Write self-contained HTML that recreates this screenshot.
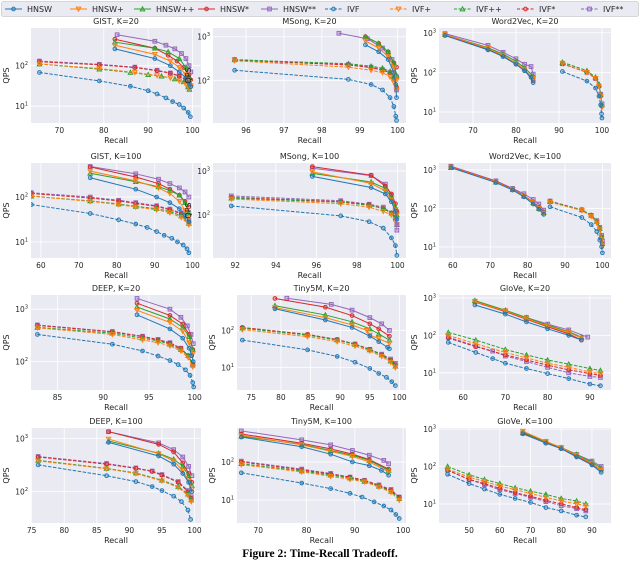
<!DOCTYPE html>
<html><head><meta charset="utf-8"><style>
body{margin:0;background:#fff;}
svg{display:block;font-family:"DejaVu Sans","Liberation Sans",sans-serif;}
</style></head><body>
<svg id="fig" width="640" height="563" viewBox="0 0 640 563" xmlns="http://www.w3.org/2000/svg"></svg>
<script>
const seriesNames = ["HNSW","HNSW+","HNSW++","HNSW*","HNSW**","IVF","IVF+","IVF++","IVF*","IVF**"];
const seriesColors = ["#1f77b4","#ff7f0e","#2ca02c","#d62728","#9467bd","#1f77b4","#ff7f0e","#2ca02c","#d62728","#9467bd"];
const seriesMarkers = ["o","v","^","o","s","o","v","^","o","s"];
const panelTitles = ["GIST, K=20","MSong, K=20","Word2Vec, K=20","GIST, K=100","MSong, K=100","Word2Vec, K=100","DEEP, K=20","Tiny5M, K=20","GloVe, K=20","DEEP, K=100","Tiny5M, K=100","GloVe, K=100"];
const xTicks = [[70,80,90,100],[96,97,98,99,100],[70,80,90,100],[60,70,80,90,100],[92,94,96,98,100],[60,70,80,90,100],[85,90,95,100],[75,80,85,90,95,100],[60,70,80,90],[75,80,85,90,95,100],[70,80,90,100],[50,60,70,80,90]];
const xDomains = [[63.6,101.9],[95.13,100.22],[62.1,102.1],[57.4,102.2],[90.9,100.42],[56.3,102.3],[82.1,100.7],[72.6,101.1],[54.3,95],[74.9,101],[65.6,100.6],[40.2,96.2]];
const yLogDomains = [[0.585,2.93],[1.02,3.2],[0.72,3.12],[0.64,2.76],[1.02,3.18],[0.71,3.18],[1.46,3.27],[0.4,2.95],[0.54,3.08],[1.41,3.2],[0.4,2.89],[0.49,3.03]];

const P1_HNSW=[[82.5,260],[91.5,150],[95,100],[97,70],[98.5,50],[99.2,38],[99.6,30]];
const P1_HNSWp=[[82.5,320],[91.5,190],[95,130],[97,90],[98.5,60],[99.3,40],[99.6,32]];
const P1_HNSWpp=[[82.5,380],[91.5,270],[94.5,220],[97,150],[98.5,90],[99.3,50],[99.6,35]];
const P1_HNSWs=[[82.5,450],[91.5,270],[94.5,180],[96.5,130],[98,90],[99.2,60],[99.6,45]];
const P1_HNSWss=[[83,580],[91.5,400],[94,320],[96,260],[97.5,200],[98.5,150],[99.2,100],[99.6,70]];
const P1_IVF=[[65.5,68],[79,42],[86,31],[90,24],[92,20],[94,16],[95.5,13],[97,11],[98,9],[99,7],[99.5,5.5]];
const P1_IVFp=[[65.5,110],[79,85],[87,68],[92,57],[95,50],[97,42],[98.5,34],[99.3,27]];
const P1_IVFpp=[[65.5,110],[79,82],[86,68],[90,60],[93,55],[96,47],[98,40],[99,30],[99.3,26]];
const P1_IVFs=[[65.5,125],[79,105],[87,90],[92,75],[95,65],[97,55],[98.5,45],[99.3,32]];
const P1_IVFss=[[65.5,130],[79,108],[87,92],[92,77],[95,66],[97,56],[98.5,46],[99.3,33]];
const P2_HNSW=[[99.15,650],[99.5,450],[99.75,300],[99.9,150],[99.95,80],[99.97,40]];
const P2_HNSWp=[[99.15,800],[99.5,550],[99.75,350],[99.9,200],[99.97,100]];
const P2_HNSWpp=[[99.15,1000],[99.5,700],[99.75,450],[99.9,250],[99.97,130]];
const P2_HNSWs=[[99.15,1000],[99.5,700],[99.75,450],[99.9,250],[99.97,200]];
const P2_HNSWss=[[98.45,1200],[99.2,900],[99.6,550],[99.85,300],[99.97,120]];
const P2_IVF=[[95.7,170],[98.7,105],[99.3,80],[99.6,60],[99.8,40],[99.9,25],[99.95,15],[99.97,12]];
const P2_IVFp=[[95.7,280],[98.7,200],[99.3,170],[99.6,150],[99.8,120],[99.9,90],[99.97,60]];
const P2_IVFpp=[[95.7,295],[98.7,240],[99.3,210],[99.6,190],[99.8,160],[99.9,120],[99.97,70]];
const P2_IVFs=[[95.7,290],[98.7,225],[99.3,195],[99.6,170],[99.8,150],[99.9,110],[99.97,70]];
const P2_IVFss=[[95.7,300],[98.7,230],[99.3,200],[99.6,175],[99.8,150],[99.9,110],[99.97,60]];
const P3_HNSW=[[63.5,850],[73.5,370],[77,250],[80,160],[82,110],[83.5,75],[84,55]];
const P3_HNSWp=[[63.5,900],[73.5,400],[77,270],[80,170],[82,120],[84,70]];
const P3_HNSWpp=[[63.5,900],[73.5,420],[77,290],[80,190],[82,130],[84,80]];
const P3_HNSWs=[[63.5,880],[73.5,380],[77,260],[80,160],[82,110],[84,62]];
const P3_HNSWss=[[63.5,950],[73.5,480],[77,320],[80,220],[82,160],[83.5,140],[84,90]];
const P3_IVF=[[90.8,105],[96.5,60],[98.5,40],[99.3,25],[99.7,15],[99.9,9],[100,7]];
const P3_IVFp=[[90.8,170],[96.5,100],[98.5,70],[99.3,45],[99.7,25],[100,13]];
const P3_IVFpp=[[90.8,180],[96.5,110],[98.5,75],[99.3,50],[99.7,28],[100,15]];
const P3_IVFs=[[90.8,165],[96.5,100],[98.5,70],[99.3,45],[99.7,25],[100,14]];
const P3_IVFss=[[90.8,165],[96.5,100],[98.5,70],[99.3,45],[99.7,28],[100,16]];
const P4_HNSW=[[73,270],[85,150],[90.5,100],[94,75],[96.5,55],[98,40],[99,28]];
const P4_HNSWp=[[73,380],[85,230],[91,160],[94,120],[96.5,80],[98,50],[99,35]];
const P4_HNSWpp=[[73,340],[85,220],[91,170],[94,140],[96.5,110],[98,75],[99,45]];
const P4_HNSWs=[[73,470],[85,280],[91,200],[94,150],[96.5,110],[98,80],[99,60]];
const P4_HNSWss=[[73,480],[85,330],[91,250],[94,200],[96.5,160],[98,130],[99,100]];
const P4_IVF=[[57.5,68],[73,43],[80.5,31],[85,25],[88,21],[90.5,17],[92.5,14],[94.5,12],[96,10],[97.5,8.5],[98.5,7],[99,5.7]];
const P4_IVFp=[[57.5,105],[73,80],[80.5,68],[85,60],[90.5,52],[94,45],[97,35],[99,24]];
const P4_IVFpp=[[57.5,105],[73,82],[80.5,70],[85,62],[90.5,55],[94,48],[97,38],[99,26]];
const P4_IVFs=[[57.5,120],[73,95],[80.5,82],[85,72],[90.5,62],[94,52],[97,42],[99,28]];
const P4_IVFss=[[57.5,125],[73,100],[80.5,85],[85,75],[90.5,64],[94,54],[97,44],[99,30]];
const P5_HNSW=[[95.8,750],[98.7,420],[99.4,300],[99.7,200],[99.9,120],[99.97,80]];
const P5_HNSWp=[[95.8,950],[98.7,520],[99.4,350],[99.7,220],[99.9,130],[99.97,100]];
const P5_HNSWpp=[[95.8,880],[98.7,560],[99.4,400],[99.7,250],[99.9,150],[99.97,100]];
const P5_HNSWs=[[95.8,1250],[98.7,800],[99.4,450],[99.7,300],[99.9,180],[99.97,120]];
const P5_HNSWss=[[95.8,1150],[98.7,780],[99.4,500],[99.7,280],[99.9,120],[99.97,60]];
const P5_IVF=[[91.8,160],[97.2,95],[98.6,70],[99.3,50],[99.7,30],[99.9,20],[99.97,12]];
const P5_IVFp=[[91.8,230],[97.2,180],[98.6,150],[99.3,120],[99.7,100],[99.9,80],[99.97,60]];
const P5_IVFpp=[[91.8,240],[97.2,195],[98.6,165],[99.3,140],[99.7,110],[99.9,90],[99.97,60]];
const P5_IVFs=[[91.8,250],[97.2,200],[98.6,170],[99.3,140],[99.7,110],[99.9,90],[99.97,60]];
const P5_IVFss=[[91.8,270],[97.2,210],[98.6,175],[99.3,150],[99.7,110],[99.9,80],[99.97,45]];
const P6_HNSW=[[59.5,1150],[71.5,470],[76,300],[79,200],[81.5,130],[83,95],[84.3,70]];
const P6_HNSWp=[[59.5,1180],[71.5,490],[76,310],[79,210],[81.5,140],[83,100],[84.3,75]];
const P6_HNSWpp=[[59.5,1150],[71.5,480],[76,310],[79,210],[81.5,140],[83,100],[84.3,78]];
const P6_HNSWs=[[59.5,1200],[71.5,500],[76,320],[79,215],[81.5,145],[83,105],[84.3,80]];
const P6_HNSWss=[[59.5,1250],[71.5,520],[76,330],[79,240],[81.5,170],[83,130],[84.3,90]];
const P6_IVF=[[86,110],[94.5,58],[97,38],[98.5,25],[99.3,15],[99.8,10],[100,7]];
const P6_IVFp=[[86,145],[94.5,88],[97,62],[98.5,42],[99.3,28],[99.8,16],[100,11]];
const P6_IVFpp=[[86,150],[94.5,92],[97,66],[98.5,46],[99.3,30],[99.8,18],[100,12]];
const P6_IVFs=[[86,150],[94.5,90],[97,65],[98.5,45],[99.3,30],[99.8,18],[100,12]];
const P6_IVFss=[[86,155],[94.5,92],[97,66],[98.5,48],[99.3,32],[99.8,20],[100,14]];
const P7_HNSW=[[93.7,780],[97.3,420],[98.7,280],[99.4,180],[99.7,130],[99.85,100]];
const P7_HNSWp=[[93.7,950],[97.3,560],[98.7,380],[99.4,230],[99.8,140]];
const P7_HNSWpp=[[93.7,1100],[97.3,650],[98.7,450],[99.4,300],[99.8,170]];
const P7_HNSWs=[[93.7,1300],[97.3,760],[98.7,520],[99.4,330],[99.8,170]];
const P7_HNSWss=[[93.7,1600],[97.3,1000],[98.5,700],[99.2,480],[99.6,330],[99.85,220]];
const P7_IVF=[[82.8,330],[91,215],[94.3,160],[96,128],[97.3,105],[98.2,88],[99,70],[99.5,55],[99.8,40],[99.9,33]];
const P7_IVFp=[[82.8,440],[91,330],[94.3,260],[96,230],[97.3,200],[98.5,160],[99.3,120],[99.8,80]];
const P7_IVFpp=[[82.8,450],[91,350],[94.3,280],[96,250],[97.3,215],[98.5,170],[99.3,130],[99.8,90]];
const P7_IVFs=[[82.8,490],[91,370],[94.3,300],[96,260],[97.3,225],[98.5,180],[99.3,130],[99.8,90]];
const P7_IVFss=[[82.8,500],[91,375],[94.3,305],[96,265],[97.3,230],[98.5,180],[99.3,130],[99.8,85]];
const P8_HNSW=[[79,380],[87.5,190],[92,120],[95,70],[96.5,50],[98,35],[98.3,32]];
const P8_HNSWp=[[79,410],[87.5,220],[92,140],[94.5,100],[95,75],[96.5,60],[98.3,45]];
const P8_HNSWpp=[[79,460],[87.5,260],[92,170],[95,110],[96.5,80],[98.3,55]];
const P8_HNSWs=[[79,720],[87.5,420],[92,250],[95,150],[96.5,110],[98.3,70]];
const P8_HNSWss=[[81,730],[88.5,500],[92,350],[95,220],[97,150],[98.3,100]];
const P8_IVF=[[73.5,55],[84.5,30],[89.5,20],[92.5,14],[95,9.5],[96.5,7],[97.8,5.5],[98.7,4.2],[99.3,3.3]];
const P8_IVFp=[[73.5,105],[84.5,68],[89.5,50],[92.5,38],[95,28],[97,20],[98.5,14],[99.3,10]];
const P8_IVFpp=[[73.5,115],[84.5,75],[89.5,55],[92.5,42],[95,30],[97,22],[98.5,15],[99.3,11]];
const P8_IVFs=[[73.5,120],[84.5,78],[89.5,57],[92.5,43],[95,31],[97,22],[98.5,16],[99.3,12]];
const P8_IVFss=[[73.5,115],[84.5,75],[89.5,56],[92.5,43],[95,31],[97,23],[98.5,17],[99.3,13]];
const P9_HNSW=[[62.8,650],[70,370],[75,230],[80,150],[85,100],[88,75]];
const P9_HNSWp=[[62.8,800],[70,450],[75,280],[80,180],[85,120],[88,85]];
const P9_HNSWpp=[[62.8,850],[70,470],[75,300],[80,190],[85,125],[88,90]];
const P9_HNSWs=[[62.8,780],[70,430],[75,270],[80,170],[85,110],[88,75]];
const P9_HNSWss=[[62.8,820],[70,460],[75,300],[80,200],[85,140],[89.5,90]];
const P9_IVF=[[56.5,65],[63,35],[67,24],[70,18],[75,13],[80,9.5],[85,7],[90,5],[92.5,4.5]];
const P9_IVFp=[[56.5,100],[63,60],[70,35],[75,25],[80,18],[85,14],[90,10.5],[92.5,9.5]];
const P9_IVFpp=[[56.5,120],[63,75],[70,42],[75,30],[80,22],[85,17],[90,13],[92.5,11.5]];
const P9_IVFs=[[56.5,85],[63,50],[70,30],[75,22],[80,16],[85,12],[90,9.5],[92.5,8.5]];
const P9_IVFss=[[56.5,90],[63,52],[67,38],[70,28],[75,20],[80,14],[85,10],[90,8],[92.5,7.5]];
const P10_HNSW=[[86.8,850],[94.5,470],[96.8,330],[98.2,220],[99.1,150],[99.6,100]];
const P10_HNSWp=[[86.8,980],[94.5,520],[96.8,380],[98.2,250],[99.1,160],[99.6,110]];
const P10_HNSWpp=[[86.8,900],[94.5,530],[96.8,410],[98.2,300],[99.1,200],[99.6,130]];
const P10_HNSWs=[[86.8,1350],[94.5,780],[96.8,560],[98.2,350],[99.1,220],[99.6,150]];
const P10_HNSWss=[[86.8,1350],[94.5,830],[96.8,620],[98.2,450],[99.1,300],[99.6,200]];
const P10_IVF=[[76,320],[86.5,200],[91,155],[93.5,125],[95,105],[96.8,82],[98,65],[99,45],[99.4,30]];
const P10_IVFp=[[76,380],[86.5,270],[91,220],[95,160],[97.5,120],[99,85],[99.5,65]];
const P10_IVFpp=[[76,390],[86.5,275],[91,225],[95,165],[97.5,125],[99,90],[99.5,70]];
const P10_IVFs=[[76,450],[86.5,330],[91,275],[93.5,240],[95,205],[97.5,150],[99,100],[99.5,75]];
const P10_IVFss=[[76,460],[86.5,340],[91,280],[93.5,245],[95,210],[97.5,155],[99,105],[99.5,80]];
const P11_HNSW=[[66.5,450],[79,250],[85,160],[89.5,100],[93,80],[95.5,60],[97,45]];
const P11_HNSWp=[[66.5,500],[79,280],[85,190],[89.5,140],[93,100],[97,55]];
const P11_HNSWpp=[[66.5,470],[79,290],[85,200],[89.5,150],[93,110],[97,60]];
const P11_HNSWs=[[66.5,540],[79,310],[85,220],[89.5,160],[93,115],[97,65]];
const P11_HNSWss=[[66.5,650],[79,380],[85,280],[89.5,200],[93,150],[96,110],[97,90]];
const P11_IVF=[[66.5,52],[79,28],[85,20],[89,15],[91.5,12],[94,9],[96,7],[97.5,5.5],[98.5,4.2],[99.2,3.3]];
const P11_IVFp=[[66.5,85],[79,55],[85,42],[89,35],[92,30],[95,22],[97.5,16],[99.2,10]];
const P11_IVFpp=[[66.5,90],[79,58],[85,45],[89,38],[92,31],[95,23],[97.5,17],[99.2,11]];
const P11_IVFs=[[66.5,100],[79,62],[85,48],[89,40],[92,33],[95,24],[97.5,18],[99.2,12]];
const P11_IVFss=[[66.5,105],[79,65],[85,50],[89,40],[92,33],[95,25],[97.5,19],[99.2,12]];
const P12_HNSW=[[67.5,750],[75,420],[80,300],[85,180],[90,110],[93,70]];
const P12_HNSWp=[[67.5,880],[75,470],[80,320],[85,200],[90,120],[93,80]];
const P12_HNSWpp=[[67.5,820],[75,460],[80,320],[85,210],[90,130],[93,90]];
const P12_HNSWs=[[67.5,800],[75,450],[80,300],[85,190],[90,115],[93,80]];
const P12_HNSWss=[[67.5,780],[75,460],[80,320],[85,210],[90,140],[93,100]];
const P12_IVF=[[43,62],[50,35],[55,25],[60,18],[65,14],[70,11],[75,8],[80,6.5],[85,5],[88,4.5]];
const P12_IVFp=[[43,85],[50,52],[55,40],[60,30],[65,24],[70,19],[75,15],[80,12],[85,10],[88,9]];
const P12_IVFpp=[[43,100],[50,60],[55,45],[60,35],[65,27],[70,22],[75,18],[80,14],[85,12],[88,10]];
const P12_IVFs=[[43,80],[50,45],[55,35],[60,26],[65,20],[70,16],[75,12.5],[80,10],[85,8],[88,7]];
const P12_IVFss=[[43,80],[50,45],[55,33],[60,24],[65,19],[70,15],[75,11.5],[80,9],[85,7.5],[88,6.5]];

const panelSeries = [
 [P1_HNSW,P1_HNSWp,P1_HNSWpp,P1_HNSWs,P1_HNSWss,P1_IVF,P1_IVFp,P1_IVFpp,P1_IVFs,P1_IVFss],
 [P2_HNSW,P2_HNSWp,P2_HNSWpp,P2_HNSWs,P2_HNSWss,P2_IVF,P2_IVFp,P2_IVFpp,P2_IVFs,P2_IVFss],
 [P3_HNSW,P3_HNSWp,P3_HNSWpp,P3_HNSWs,P3_HNSWss,P3_IVF,P3_IVFp,P3_IVFpp,P3_IVFs,P3_IVFss],
 [P4_HNSW,P4_HNSWp,P4_HNSWpp,P4_HNSWs,P4_HNSWss,P4_IVF,P4_IVFp,P4_IVFpp,P4_IVFs,P4_IVFss],
 [P5_HNSW,P5_HNSWp,P5_HNSWpp,P5_HNSWs,P5_HNSWss,P5_IVF,P5_IVFp,P5_IVFpp,P5_IVFs,P5_IVFss],
 [P6_HNSW,P6_HNSWp,P6_HNSWpp,P6_HNSWs,P6_HNSWss,P6_IVF,P6_IVFp,P6_IVFpp,P6_IVFs,P6_IVFss],
 [P7_HNSW,P7_HNSWp,P7_HNSWpp,P7_HNSWs,P7_HNSWss,P7_IVF,P7_IVFp,P7_IVFpp,P7_IVFs,P7_IVFss],
 [P8_HNSW,P8_HNSWp,P8_HNSWpp,P8_HNSWs,P8_HNSWss,P8_IVF,P8_IVFp,P8_IVFpp,P8_IVFs,P8_IVFss],
 [P9_HNSW,P9_HNSWp,P9_HNSWpp,P9_HNSWs,P9_HNSWss,P9_IVF,P9_IVFp,P9_IVFpp,P9_IVFs,P9_IVFss],
 [P10_HNSW,P10_HNSWp,P10_HNSWpp,P10_HNSWs,P10_HNSWss,P10_IVF,P10_IVFp,P10_IVFpp,P10_IVFs,P10_IVFss],
 [P11_HNSW,P11_HNSWp,P11_HNSWpp,P11_HNSWs,P11_HNSWss,P11_IVF,P11_IVFp,P11_IVFpp,P11_IVFs,P11_IVFss],
 [P12_HNSW,P12_HNSWp,P12_HNSWpp,P12_HNSWs,P12_HNSWss,P12_IVF,P12_IVFp,P12_IVFpp,P12_IVFs,P12_IVFss]
];

const NS="http://www.w3.org/2000/svg";
const svg=document.getElementById('fig');
function mk(tag,attrs,parent){const e=document.createElementNS(NS,tag);for(const k in attrs)e.setAttribute(k,attrs[k]);(parent||svg).appendChild(e);return e;}
function marker(g,type,x,y,c){
  const r=1.9;let e;
  if(type==="o") e=mk('circle',{cx:x,cy:y,r:r},g);
  else if(type==="s") e=mk('rect',{x:x-r,y:y-r,width:2*r,height:2*r},g);
  else if(type==="v") e=mk('polygon',{points:`${x-r*1.2},${y-r} ${x+r*1.2},${y-r} ${x},${y+r*1.2}`},g);
  else e=mk('polygon',{points:`${x-r*1.2},${y+r} ${x+r*1.2},${y+r} ${x},${y-r*1.2}`},g);
  e.setAttribute('fill',c);e.setAttribute('fill-opacity','0.35');e.setAttribute('stroke',c);e.setAttribute('stroke-width','0.9');
  
  
}

const lg=mk('g',{});


mk('rect',{x:1.5,y:1.5,width:637,height:15,rx:2,fill:'#eaeaf2',stroke:'#cccccc','stroke-width':0.8},lg);
const legendX=[2,67,131,195,258,322,387,451,514,578];
seriesNames.forEach((n,i)=>{
  const g=mk('g',{},lg);
  
  
  const x=legendX[i];
  mk('line',{x1:x+3,y1:9,x2:x+20,y2:9,stroke:seriesColors[i],'stroke-width':1,'stroke-dasharray':i>=5?'3,1.5':'none'},g);
  marker(g,seriesMarkers[i],x+11.5,9,seriesColors[i]);
  const t=mk('text',{x:x+25,y:12,'font-size':8,fill:'#262626'},g);t.textContent=n;
});

const colL=[[31,201],[213,406],[439,611]];
const rowT=[28,163,295,428];const PH=95;
panelTitles.forEach((title,p)=>{
  const row=Math.floor(p/3),col=p%3;
  let L=colL[col][0];const R=colL[col][1];
  if(p===7||p===10) L=237;
  const T=rowT[row],B=T+PH;
  const [x0,x1]=xDomains[p],[l0,l1]=yLogDomains[p];
  const sx=v=>L+(v-x0)/(x1-x0)*(R-L);
  const sy=v=>B-(Math.log10(v)-l0)/(l1-l0)*(B-T);
  const g=mk('g',{});
  
  
  mk('rect',{x:L,y:T,width:R-L,height:B-T,fill:'#eaeaf2'},g);
  xTicks[p].forEach(v=>{const x=sx(v);
    mk('line',{x1:x,y1:T,x2:x,y2:B,stroke:'#fff','stroke-width':0.8},g);
    const t=mk('text',{x:x,y:B+10,'font-size':7.5,'text-anchor':'middle',fill:'#262626'},g);t.textContent=v;
    
    
  });
  for(let k=Math.ceil(l0);k<=Math.floor(l1);k++){const y=sy(Math.pow(10,k));
    mk('line',{x1:L,y1:y,x2:R,y2:y,stroke:'#fff','stroke-width':0.8},g);
    const t=mk('text',{x:L-3,y:y+3,'font-size':7.5,'text-anchor':'end',fill:'#262626'},g);
    
    
    const a=mk('tspan',{},t);a.textContent='10';
    const b=mk('tspan',{'font-size':5,dy:-3.5},t);b.textContent=String(k);
  }
  const tt=mk('text',{x:(L+R)/2,y:T-4,'font-size':8,'text-anchor':'middle',fill:'#262626'},g);tt.textContent=title;
  
  
  const xl=mk('text',{x:(L+R)/2,y:B+20,'font-size':8,'text-anchor':'middle',fill:'#262626'},g);xl.textContent='Recall';
  
  
  const yl=mk('text',{x:0,y:0,'font-size':8,'text-anchor':'middle',fill:'#262626',transform:`translate(${L-22},${(T+B)/2}) rotate(-90)`},g);yl.textContent='QPS';
  
  
  const clip=mk('clipPath',{id:'c'+p},g);mk('rect',{x:L,y:T,width:R-L,height:B-T},clip);
  const dg=mk('g',{'clip-path':`url(#c${p})`},g);
  for(let i=9;i>=0;i--){
    const pts=panelSeries[p][i];
    const sg=mk('g',{},dg);
    
    
    mk('polyline',{points:pts.map(d=>sx(d[0])+','+sy(d[1])).join(' '),fill:'none',stroke:seriesColors[i],'stroke-width':1,'stroke-dasharray':i>=5?'3.5,1.5':'none'},sg);
    pts.forEach(d=>marker(sg,seriesMarkers[i],sx(d[0]),sy(d[1]),seriesColors[i]));
  }
});
const cap=mk('text',{x:320,y:557,'font-size':11.5,'font-weight':'bold','text-anchor':'middle','font-family':'"Liberation Serif",serif',fill:'#000'});
cap.textContent='Figure 2: Time-Recall Tradeoff.';


</script>
</body></html>
